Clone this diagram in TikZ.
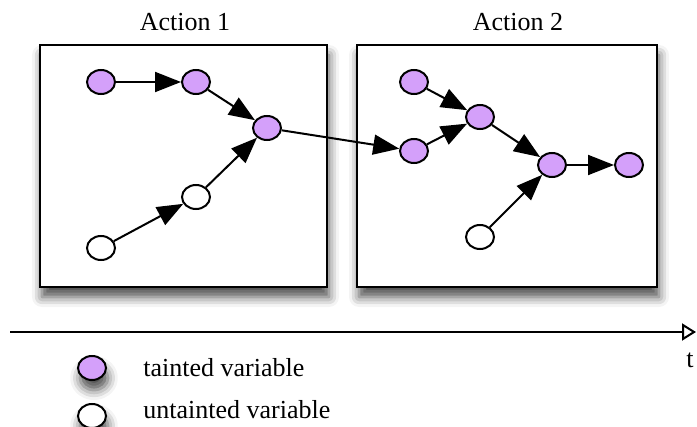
\documentclass[tikz,border=0pt]{standalone}
\usepackage{fontspec}
\setmainfont{Liberation Serif}
\usetikzlibrary{arrows.meta,shapes.geometric,shadows.blur}
\definecolor{taintfill}{RGB}{212,160,250}

\begin{document}
\begin{tikzpicture}[x=0.5pt,y=-0.5pt]
                \tikzstyle{every node}+=[inner sep=0pt,font=\fontsize{13}{15}\selectfont]
                \tikzstyle{tainted}=[ellipse,draw=black,line width=1pt,fill=taintfill,minimum width=14pt,minimum height=12pt]
                \tikzstyle{untainted}=[tainted,fill=white]
                \tikzstyle{flow}=[black,line width=1pt,-{Triangle[length=13pt,width=10pt]}]
                \tikzstyle{softshadow}=[blur shadow={shadow xshift=1pt,shadow yshift=-5pt,shadow blur radius=5pt,shadow opacity=70}]
                \tikzstyle{action}=[draw=black,line width=1.4pt,fill=white,softshadow]
                \useasboundingbox (0,0) rectangle (697,427);
                \node [action,minimum width=143.5pt,minimum height=121pt] (box1) at (183.5,166) {};
                \node [action,minimum width=150pt,minimum height=121pt] (box2) at (507,166) {};
                \node (title1) at (185,22) {Action 1};
                \node (title2) at (518,22) {Action 2};
                \node [tainted] (a1) at (101,82) {};
                \node [tainted] (a2) at (196,82) {};
                \node [tainted] (a3) at (267,128) {};
                \node [untainted] (a4) at (196,197) {};
                \node [untainted] (a5) at (101,248) {};
                \node [tainted] (b1) at (414,82) {};
                \node [tainted] (b2) at (480,117) {};
                \node [tainted] (b3) at (414,151) {};
                \node [tainted] (b4) at (552,165) {};
                \node [tainted] (b5) at (629,165) {};
                \node [untainted] (b6) at (480,237) {};
                \draw [flow] (a1) -- (a2);
                \draw [flow] (a2) -- (a3);
                \draw [flow] (a5) -- (a4);
                \draw [flow] (a4) -- (a3);
                \draw [flow] (a3) -- (b3);
                \draw [flow] (b1) -- (b2);
                \draw [flow] (b3) -- (b2);
                \draw [flow] (b2) -- (b4);
                \draw [flow] (b6) -- (b4);
                \draw [flow] (b4) -- (b5);
                \coordinate (t0) at (10,332);
                \coordinate (t1) at (696,332);
                \draw [black,line width=1pt,-{Triangle[open,length=7pt,width=8.5pt]}] (t0) -- (t1);
                \node (tlabel) at (690,360) {t};
                \node [tainted,softshadow] (key1) at (92,368) {};
                \node [untainted,softshadow] (key2) at (92,416) {};
                \node [anchor=west] (keytext1) at (143,368) {tainted variable};
                \node [anchor=west] (keytext2) at (143,410) {untainted variable};
            \end{tikzpicture}
\end{document}
